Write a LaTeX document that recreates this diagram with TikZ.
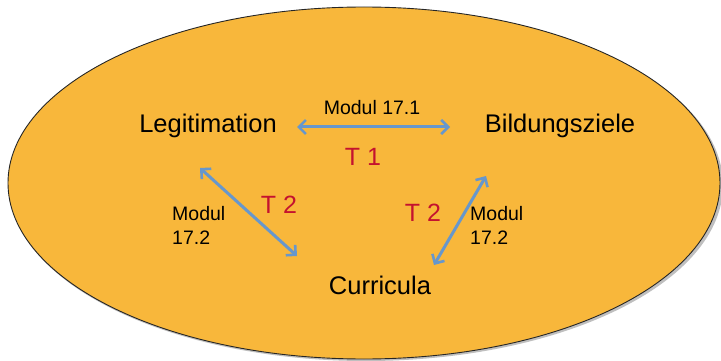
\documentclass[tikz,border=0pt]{standalone}
\usepackage{fontspec}
\setmainfont{Liberation Sans}
\usetikzlibrary{arrows.meta}
\definecolor{bgorange}{HTML}{F8B73B}
\definecolor{arrowblue}{HTML}{6797CC}
\definecolor{topicred}{HTML}{C4122F}
\tikzset{
  concept/.style={font=\fontsize{25.5}{30}\selectfont, inner sep=0pt},
  modul/.style={font=\fontsize{19.5}{24}\selectfont, inner sep=0pt, align=left},
  topic/.style={font=\fontsize{25}{29}\selectfont, text=topicred, inner sep=0pt},
  link/.style={draw=arrowblue, line width=3pt,
    {Straight Barb[length=7pt,width=14pt,line width=2.6pt]}-{Straight Barb[length=7pt,width=14pt,line width=2.6pt]}}
}
\begin{document}
\begin{tikzpicture}[x=1pt,y=-1pt]
\useasboundingbox (0,0) rectangle (721,361);
\begin{scope}
\clip (0,0) rectangle (721,361);
\fill[black!25] (366,185) ellipse [x radius=357, y radius=176];
\filldraw[fill=bgorange, draw=black!85, line width=0.9pt] (364,183) ellipse [x radius=356, y radius=176];
\end{scope}

\node[concept] (leg) at (208,126) {Legitimation};
\node[concept] (bild) at (560,126) {Bildungsziele};
\node[concept] (cur) at (380,285) {Curricula};

\coordinate (hA) at (297,127);
\coordinate (hB) at (450,127);
\coordinate (lA) at (200,168);
\coordinate (lB) at (297,256);
\coordinate (rA) at (486,176);
\coordinate (rB) at (434,265);

\draw[link] (hA) -- (hB);
\draw[link] (lA) -- (lB);
\draw[link] (rA) -- (rB);

\node[modul] (m1) at (372,108) {Modul 17.1};
\node[topic] (t1) at (363,157) {T 1};
\node[topic] (t2l) at (279,205) {T 2};
\node[topic] (t2r) at (423,213) {T 2};
\node[modul, anchor=north west] (m2l) at (172,206) {Modul\\17.2};
\node[modul, anchor=north west] (m2r) at (470,206) {Modul\\17.2};
\end{tikzpicture}
\end{document}
